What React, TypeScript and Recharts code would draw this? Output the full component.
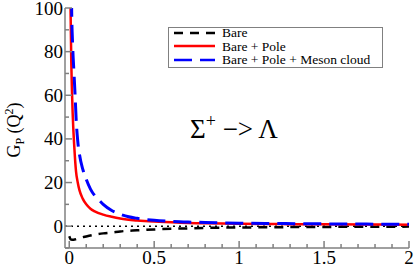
import { LineChart, Line, XAxis, YAxis, ReferenceLine } from "recharts";

// Q^2 (GeV^2) and G_P(Q^2)
const q2Bare = [0, 0.01, 0.025, 0.05, 0.075, 0.1, 0.15, 0.2, 0.25, 0.3, 0.4, 0.5, 0.6, 0.7, 0.8, 1.0, 1.25, 1.5, 1.75, 2.0];
const gBare = [-4.6, -6.1, -6.2, -5.7, -5.1, -4.7, -3.9, -3.3, -2.9, -2.4, -1.9, -1.5, -1.2, -1.0, -0.8, -0.6, -0.45, -0.35, -0.25, -0.2];

const q2Pole = [0.004, 0.008, 0.012, 0.016, 0.02, 0.03, 0.04, 0.05, 0.06, 0.08, 0.1, 0.125, 0.15, 0.2, 0.25, 0.3, 0.4, 0.5, 0.6, 0.7, 0.8, 1.0, 1.25, 1.5, 1.75, 2.0];
const gPole = [140, 98, 75, 62, 52, 36, 25, 20, 16.5, 12.5, 10, 8, 6.8, 5.3, 4.3, 3.5, 2.6, 2.1, 1.8, 1.5, 1.35, 1.1, 0.95, 0.85, 0.75, 0.7];

const q2Meson = [0.01, 0.014, 0.02, 0.028, 0.035, 0.04, 0.05, 0.06, 0.08, 0.1, 0.125, 0.15, 0.175, 0.2, 0.25, 0.3, 0.35, 0.4, 0.5, 0.6, 0.7, 0.8, 1.0, 1.25, 1.5, 1.75, 2.0];
const gMeson = [140, 100, 83, 70, 59, 50, 39, 33, 26, 21.5, 17, 14, 12, 10, 7.2, 5.5, 4.3, 3.6, 2.7, 2.2, 1.9, 1.7, 1.4, 1.2, 1.05, 0.95, 0.85];

const xTicks = [0, 0.1, 0.2, 0.3, 0.4, 0.5, 0.6, 0.7, 0.8, 0.9, 1, 1.1, 1.2, 1.3, 1.4, 1.5, 1.6, 1.7, 1.8, 1.9, 2];
const yTicks = [-10, 0, 10, 20, 30, 40, 50, 60, 70, 80, 90, 100];

const toPts = (xs: number[], ys: number[]) => xs.map((q, i) => ({ q2: q, g: ys[i] }));
const bare = toPts(q2Bare, gBare);
const pole = toPts(q2Pole, gPole);
const meson = toPts(q2Meson, gMeson);

const FONT = '"Liberation Serif", "Times New Roman", serif';
const FRAME = "#808080";

const isMajorX = (v: number) => Math.abs(v * 2 - Math.round(v * 2)) < 1e-6;
const isMajorY = (v: number) => v % 20 === 0;

const BottomTick = ({ x, y, payload }: any) => {
  const major = isMajorX(payload.value);
  return (
    <g>
      <line x1={x} x2={x} y1={y} y2={y - (major ? 7 : 4)} stroke={FRAME} strokeWidth={1.5} />
      {major && (
        <text x={x} y={y + 16} textAnchor="middle" style={{ fontFamily: FONT }} fontSize={19} fill="#000">
          {String(payload.value)}
        </text>
      )}
    </g>
  );
};

const TopTick = ({ x, y, payload }: any) => {
  const major = isMajorX(payload.value);
  return <line x1={x} x2={x} y1={y} y2={y + (major ? 7 : 4)} stroke={FRAME} strokeWidth={1.5} />;
};

const LeftTick = ({ x, y, payload }: any) => {
  const major = isMajorY(payload.value);
  return (
    <g>
      <line x1={x} x2={x + (major ? 7 : 4)} y1={y} y2={y} stroke={FRAME} strokeWidth={1.5} />
      {major && (
        <text x={x - 2} y={y + 6.5} textAnchor="end" style={{ fontFamily: FONT }} fontSize={19} fill="#000">
          {String(payload.value)}
        </text>
      )}
    </g>
  );
};

const RightTick = ({ x, y, payload }: any) => {
  const major = isMajorY(payload.value);
  return <line x1={x} x2={x - (major ? 7 : 4)} y1={y} y2={y} stroke={FRAME} strokeWidth={1.5} />;
};

const legendRows = [
  { label: "Bare", color: "#000", dash: "9 7" },
  { label: "Bare + Pole", color: "#ff0000", dash: "" },
  { label: "Bare + Pole + Meson cloud", color: "#0000ff", dash: "18 8" },
];

export default function App() {
  return (
    <div style={{ position: "absolute", left: 0, top: 0, width: 415, height: 267, background: "#fff", fontFamily: FONT }}>
      <LineChart width={415} height={267} margin={{ top: 8, right: 6, bottom: 0, left: 0 }}>
        <XAxis
          dataKey="q2"
          type="number"
          domain={[-0.025, 2]}
          allowDataOverflow
          ticks={xTicks}
          interval={0}
          height={19}
          tickSize={0}
          tickMargin={0}
          tickLine={false}
          axisLine={{ stroke: FRAME, strokeWidth: 1.5 }}
          tick={<BottomTick />}
        />
        <XAxis
          xAxisId="top"
          orientation="top"
          dataKey="q2"
          type="number"
          domain={[-0.025, 2]}
          allowDataOverflow
          ticks={xTicks}
          interval={0}
          height={0}
          tickSize={0}
          tickMargin={0}
          tickLine={false}
          axisLine={{ stroke: FRAME, strokeWidth: 1.5 }}
          tick={<TopTick />}
        />
        <YAxis
          type="number"
          domain={[-10, 100]}
          allowDataOverflow
          ticks={yTicks}
          interval={0}
          width={65}
          tickSize={0}
          tickMargin={0}
          tickLine={false}
          axisLine={{ stroke: FRAME, strokeWidth: 1.5 }}
          tick={<LeftTick />}
        />
        <YAxis
          yAxisId="right"
          orientation="right"
          type="number"
          domain={[-10, 100]}
          allowDataOverflow
          ticks={yTicks}
          interval={0}
          width={0}
          tickSize={0}
          tickMargin={0}
          tickLine={false}
          axisLine={{ stroke: FRAME, strokeWidth: 1.5 }}
          tick={<RightTick />}
        />
        <ReferenceLine y={0} stroke="#000" strokeWidth={1.5} strokeDasharray="2 4" />
        <Line data={bare} dataKey="g" type="monotone" stroke="#000" strokeWidth={2.5} strokeDasharray="9 7" dot={false} isAnimationActive={false} />
        <Line data={pole} dataKey="g" type="monotone" stroke="#ff0000" strokeWidth={2.5} dot={false} isAnimationActive={false} />
        <Line data={meson} dataKey="g" type="monotone" stroke="#0000ff" strokeWidth={3} strokeDasharray="18 8" dot={false} isAnimationActive={false} />
      </LineChart>

      <div
        style={{
          position: "absolute",
          left: 168,
          top: 27,
          width: 215,
          height: 41,
          border: `1.5px solid ${FRAME}`,
          background: "#fff",
          fontSize: 13.5,
          lineHeight: "13.5px",
          boxSizing: "border-box",
        }}
      >
        <div style={{ position: "relative", top: -2 }}>
          {legendRows.map((r) => (
            <div key={r.label} style={{ display: "flex", alignItems: "center", height: 13.5 }}>
              <svg width={50} height={10} style={{ flex: "none" }}>
                <line x1={5} x2={46} y1={5} y2={5} stroke={r.color} strokeWidth={2.5} strokeDasharray={r.dash || undefined} />
              </svg>
              <span style={{ marginLeft: 3, whiteSpace: "nowrap" }}>{r.label}</span>
            </div>
          ))}
        </div>
      </div>

      <div
        style={{
          position: "absolute",
          left: 15,
          top: 130,
          transform: "translate(-50%, -50%) rotate(-90deg)",
          fontSize: 18,
          whiteSpace: "nowrap",
        }}
      >
        G<sub style={{ fontSize: 12 }}>P</sub> (Q<sup style={{ fontSize: 12 }}>2</sup>)
      </div>

      <svg width={415} height={267} style={{ position: "absolute", left: 0, top: 0, pointerEvents: "none" }}>
        <text x={190} y={138} fontSize={27} style={{ fontFamily: FONT }} fill="#000">
          <tspan>Σ</tspan>
          <tspan dy={-11} fontSize={18}>+</tspan>
          <tspan dy={11}>{" −> Λ"}</tspan>
        </text>
      </svg>
    </div>
  );
}
